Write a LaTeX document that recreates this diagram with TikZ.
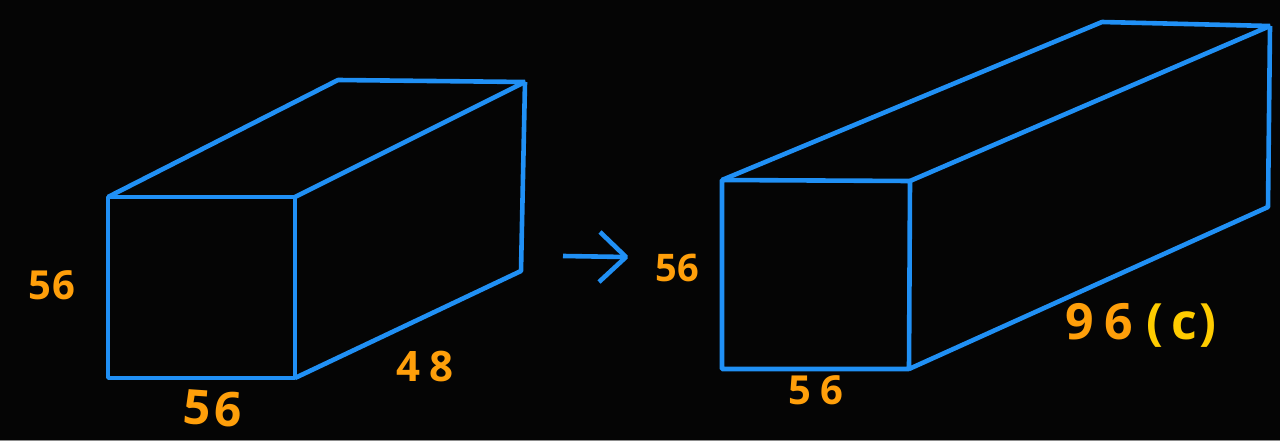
\documentclass[tikz,border=0pt]{standalone}
\usepackage{fontspec}
\setmainfont{Open Sans}
\definecolor{bg}{HTML}{050505}
\definecolor{boxblue}{HTML}{2090F5}
\definecolor{numorange}{HTML}{FF9F0A}
\definecolor{noteyellow}{HTML}{FFCC00}
\tikzset{
  edge/.style={draw=boxblue,line width=4.6pt,line join=bevel,line cap=butt},
  num/.style={text=numorange,inner sep=0pt,font=\fontsize{#1}{#1}\selectfont\bfseries},
  num/.default=36
}
\begin{document}
\begin{tikzpicture}[x=1pt,y=-1pt]
\useasboundingbox (0,0) rectangle (1280,441);
\fill[bg] (0,0) rectangle (1280,441);
\fill[black!45!white] (0,439.8) rectangle (1280,441);
% left box
\coordinate (a1) at (108,197);
\coordinate (a2) at (295,197);
\coordinate (a3) at (295,378);
\coordinate (a4) at (108,378);
\coordinate (a5) at (338,80);
\coordinate (a6) at (525,82);
\coordinate (a7) at (521,271);
\draw[edge] (a1) -- (a2) -- (a3) -- (a4) -- cycle;
\draw[edge] (a1) -- (a5) -- (a6) -- (a2);
\draw[edge] (a6) -- (a7) -- (a3);
% arrow
\coordinate (s) at (563,256);
\coordinate (t) at (626,257);
\coordinate (u) at (600,232);
\coordinate (v) at (599,282);
\draw[edge] (s) -- (t);
\draw[edge] (u) -- (t) -- (v);
% right box
\coordinate (b1) at (722,180);
\coordinate (b2) at (910,181);
\coordinate (b3) at (909,369);
\coordinate (b4) at (722,369);
\coordinate (b5) at (1102,22);
\coordinate (b6) at (1270,26);
\coordinate (b7) at (1268,207);
\draw[edge] (b1) -- (b2) -- (b3) -- (b4) -- cycle;
\draw[edge] (b1) -- (b5) -- (b6) -- (b2);
\draw[edge] (b6) -- (b7) -- (b3);
% labels
\node[num=40] (l1) at (52,285) {5\kern1pt 6};
\node[num=48,rotate=-4] (l2) at (213,408) {5\kern3pt 6};
\node[num=42] (l3) at (425,367) {4\kern9pt 8};
\node[num=38] (l4) at (677,268) {56};
\node[num=40] (l5) at (816,390) {5\kern9pt 6};
\node[num=50] (l6) at (1141,325) {9\kern11pt 6\kern13pt\textcolor{noteyellow}{(\kern8pt c\kern2.5pt)}};
\end{tikzpicture}
\end{document}
